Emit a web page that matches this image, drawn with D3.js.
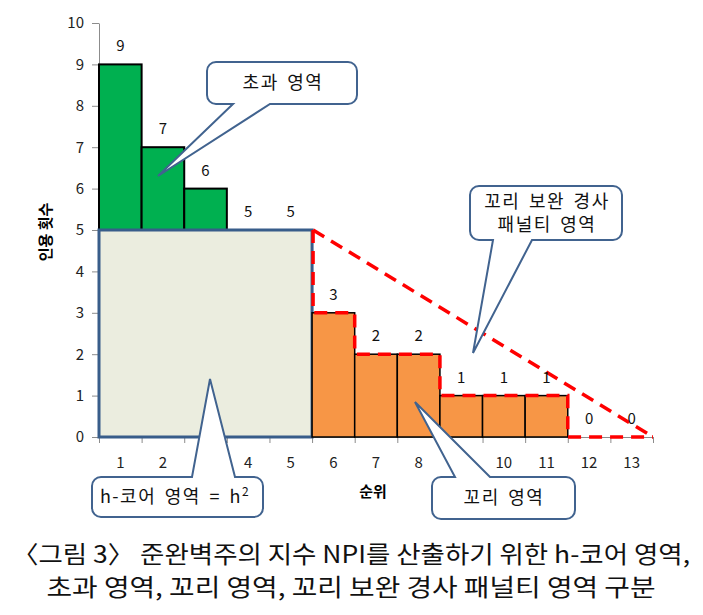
<!DOCTYPE html>
<html>
<head lang="ko">
    <meta charset="UTF-8">
    <title>h-코어 영역</title>
    <script src="https://d3js.org/d3.v7.min.js" charset="utf-8"></script>
    <style type="text/css">
        body { margin: 0; background: #fff; }
        text { font-family: "Noto Sans CJK KR", "Noto Sans", sans-serif; }
    </style>
</head>
<body>

<svg id="svg" width="703" height="615"></svg>

<script>
    // data
    var ranks = [1, 2, 3, 4, 5, 6, 7, 8, 9, 10, 11, 12, 13];
    var citations = [9, 7, 6, 5, 5, 3, 2, 2, 1, 1, 1, 0, 0];
    var hIndex = 5;
    var yTicks = [0, 1, 2, 3, 4, 5, 6, 7, 8, 9, 10];
    var captionLines = [
        "〈그림 3〉 준완벽주의 지수 NPI를 산출하기 위한 h-코어 영역,",
        "초과 영역, 꼬리 영역, 꼬리 보완 경사 패널티 영역 구분"
    ];

    var svg = d3.select("svg");

    var plotLeft = 99, plotRight = 653, plotTop = 23, plotBottom = 437;

    var x = d3.scaleBand().domain(ranks).range([plotLeft, plotRight]).padding(0);
    var xEdge = d3.scaleLinear().domain([0.5, 13.5]).range([plotLeft, plotRight]);
    var y = d3.scaleLinear().domain([0, 10]).range([plotBottom, plotTop]);

    var axisColor = "#8c8c8c";

    // y axis
    var yAxis = svg.append("g")
            .attr("transform", "translate(" + plotLeft + ",0)")
            .call(d3.axisLeft(y).tickValues(yTicks).tickSize(7).tickPadding(8).tickSizeOuter(0));
    yAxis.select(".domain").attr("stroke", axisColor);
    yAxis.selectAll(".tick line").attr("stroke", axisColor);
    yAxis.selectAll(".tick text")
            .attr("font-family", "'Noto Sans', sans-serif")
            .attr("font-size", 15)
            .attr("fill", "#222");

    // x axis: ticks at band edges, labels at band centres
    var xTickAxis = svg.append("g")
            .attr("transform", "translate(0," + plotBottom + ")")
            .call(d3.axisBottom(xEdge).tickValues(d3.range(0.5, 14, 1)).tickSize(6).tickFormat("").tickSizeOuter(0));
    xTickAxis.select(".domain").attr("stroke", axisColor);
    xTickAxis.selectAll(".tick line").attr("stroke", axisColor);

    var xLabelAxis = svg.append("g")
            .attr("transform", "translate(0," + plotBottom + ")")
            .call(d3.axisBottom(x).tickSize(0).tickPadding(20));
    xLabelAxis.select(".domain").remove();
    xLabelAxis.selectAll(".tick text")
            .attr("font-family", "'Noto Sans', sans-serif")
            .attr("font-size", 15)
            .attr("fill", "#222");

    // excess bars (green), above h
    var heads = ranks.filter(function (r, i) { return r <= hIndex && citations[i] > hIndex; });
    svg.selectAll("rect.excess")
            .data(heads)
            .enter().append("rect")
            .attr("class", "excess")
            .attr("x", function (r) { return x(r); })
            .attr("width", x.bandwidth())
            .attr("y", function (r) { return y(citations[r - 1]); })
            .attr("height", function (r) { return y(hIndex) - y(citations[r - 1]); })
            .attr("fill", "#00b050")
            .attr("stroke", "#000")
            .attr("stroke-width", 2);

    // h-core square
    svg.append("rect")
            .attr("x", x(1))
            .attr("y", y(hIndex))
            .attr("width", x(hIndex) + x.bandwidth() - x(1))
            .attr("height", y(0) - y(hIndex))
            .attr("fill", "#ebeddf")
            .attr("stroke", "#385d8a")
            .attr("stroke-width", 3);

    // tail bars (orange)
    var tails = ranks.filter(function (r, i) { return r > hIndex && citations[i] > 0; });
    svg.selectAll("rect.tail")
            .data(tails)
            .enter().append("rect")
            .attr("class", "tail")
            .attr("x", function (r) { return x(r); })
            .attr("width", x.bandwidth())
            .attr("y", function (r) { return y(citations[r - 1]); })
            .attr("height", function (r) { return y(0) - y(citations[r - 1]); })
            .attr("fill", "#f79646")
            .attr("stroke", "#000")
            .attr("stroke-width", 1.5);

    // red dashed: tail outline + penalty triangle
    var tailPts = [[xEdge(hIndex + 0.5) + 1, y(hIndex)]];
    ranks.forEach(function (r, i) {
        if (r > hIndex) {
            tailPts.push([Math.max(x(r), tailPts[0][0]), y(citations[i])]);
            tailPts.push([x(r) + x.bandwidth(), y(citations[i])]);
        }
    });
    var redLine = d3.line();
    svg.append("path")
            .attr("d", redLine(tailPts))
            .attr("fill", "none")
            .attr("stroke", "#ff0000")
            .attr("stroke-width", 3.5)
            .attr("stroke-dasharray", "13,8");
    svg.append("path")
            .attr("d", redLine([[xEdge(hIndex + 0.5) + 1, y(hIndex)], [xEdge(13.5), y(0)]]))
            .attr("fill", "none")
            .attr("stroke", "#ff0000")
            .attr("stroke-width", 3.5)
            .attr("stroke-dasharray", "13,8");

    // value labels
    svg.selectAll("text.val")
            .data(ranks)
            .enter().append("text")
            .attr("class", "val")
            .attr("x", function (r) { return x(r) + x.bandwidth() / 2; })
            .attr("y", function (r) { return y(citations[r - 1]) - 13; })
            .attr("text-anchor", "middle")
            .attr("font-family", "'Noto Sans', sans-serif")
            .attr("font-size", 15)
            .attr("fill", "#111")
            .text(function (r) { return citations[r - 1]; });

    // axis titles
    svg.append("text")
            .attr("transform", "translate(51,232) rotate(-90)")
            .attr("text-anchor", "middle")
            .attr("font-size", 15)
            .attr("font-weight", "bold")
            .text("인용 횟수");
    svg.append("text")
            .attr("x", 373)
            .attr("y", 497)
            .attr("text-anchor", "middle")
            .attr("font-size", 15)
            .attr("font-weight", "bold")
            .text("순위");

    // callouts: rounded box with a wedge on the top or bottom edge
    function callout(bx, by, w, h, r, side, b1, b2, tip) {
        var p = d3.path();
        p.moveTo(bx + r, by);
        if (side == "top") {
            p.lineTo(b1, by);
            p.lineTo(tip[0], tip[1]);
            p.lineTo(b2, by);
        }
        p.lineTo(bx + w - r, by);
        p.arcTo(bx + w, by, bx + w, by + r, r);
        p.lineTo(bx + w, by + h - r);
        p.arcTo(bx + w, by + h, bx + w - r, by + h, r);
        if (side == "bottom") {
            p.lineTo(b2, by + h);
            p.lineTo(tip[0], tip[1]);
            p.lineTo(b1, by + h);
        }
        p.lineTo(bx + r, by + h);
        p.arcTo(bx, by + h, bx, by + h - r, r);
        p.lineTo(bx, by + r);
        p.arcTo(bx, by, bx + r, by, r);
        p.closePath();
        svg.append("path")
                .attr("d", p.toString())
                .attr("fill", "#fff")
                .attr("stroke", "#41638f")
                .attr("stroke-width", 2);
    }

    function boxText(cx, cy, lines) {
        var t = svg.append("text")
                .attr("text-anchor", "middle")
                .attr("font-size", 18)
                .attr("letter-spacing", 1.5)
                .attr("word-spacing", 3)
                .attr("fill", "#111");
        lines.forEach(function (line, i) {
            t.append("tspan")
                    .attr("x", cx)
                    .attr("y", cy + (i - (lines.length - 1) / 2) * 23 + 6)
                    .text(line);
        });
        return t;
    }

    callout(207, 62, 150, 42, 9, "bottom", 233, 270, [158, 176]);
    boxText(283, 83, ["초과 영역"]);

    callout(470, 186, 152, 54, 9, "bottom", 493, 532, [473, 353]);
    boxText(547, 213, ["꼬리 보완 경사", "패널티 영역"]);

    callout(92, 477, 171, 40, 9, "top", 192, 235, [210, 379]);
    var hText = boxText(175, 497, ["h-코어 영역 = h"]);
    hText.append("tspan").attr("dy", -7).attr("font-size", 12).text("2");

    callout(432, 477, 143, 42, 9, "top", 455, 490, [415, 402]);
    boxText(504, 498, ["꼬리 영역"]);

    // caption
    svg.selectAll("text.caption")
            .data(captionLines)
            .enter().append("text")
            .attr("class", "caption")
            .attr("x", 351)
            .attr("y", function (d, i) { return 563 + i * 33; })
            .attr("text-anchor", "middle")
            .attr("font-size", 24)
            .attr("fill", "#111")
            .attr("textLength", function (d, i) { return i == 0 ? 678 : 609; })
            .attr("lengthAdjust", "spacingAndGlyphs")
            .text(function (d) { return d; });
</script>

</body>
</html>
